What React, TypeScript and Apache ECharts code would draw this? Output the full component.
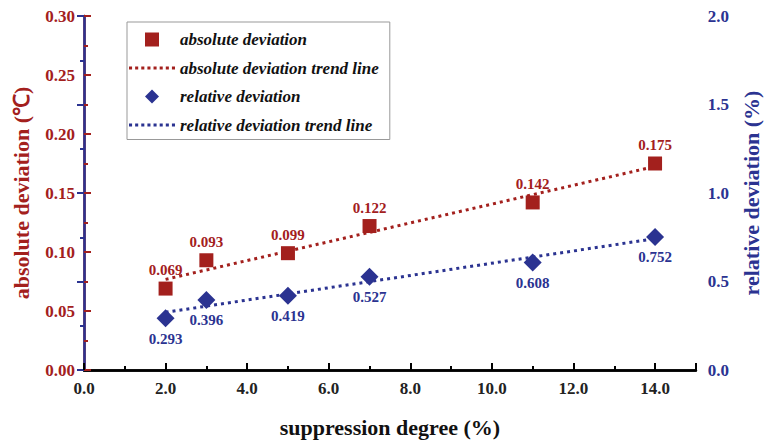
import React, { useEffect, useRef } from "react";
import * as echarts from "echarts";

const xValues = [2, 3, 5, 7, 11, 14];
const absoluteDeviation = [0.069, 0.093, 0.099, 0.122, 0.142, 0.175];
const relativeDeviation = [0.293, 0.396, 0.419, 0.527, 0.608, 0.752];
const trendX = [2, 14];
const absoluteTrend = [0.0768, 0.1725];
const relativeTrend = [0.326, 0.742];

const RED = "#a3201d";
const BLUE = "#2b3391";
const FONT = "Liberation Serif";

const dots = (() => {
  let d = "path://";
  for (let i = 0; i < 8; i++) d += `M${i * 6},0h3v3h-3z`;
  return d;
})();
const squareIcon = "path://M0,0h10v10h-10z";
const diamondIcon = "path://M5,0L10,5L5,10L0,5z";

export default function App() {
  const ref = useRef<HTMLDivElement>(null);
  useEffect(() => {
    document.body.style.margin = "0";
    const chart = echarts.init(ref.current!, undefined, { renderer: "svg" });
    const absPts = xValues.map((x, i) => [x, absoluteDeviation[i]]);
    const relPts = xValues.map((x, i) => [x, relativeDeviation[i]]);
    const absTr = trendX.map((x, i) => [x, absoluteTrend[i]]);
    const relTr = trendX.map((x, i) => [x, relativeTrend[i]]);
    chart.setOption({
      animation: false,
      backgroundColor: "#fff",
      textStyle: { fontFamily: FONT },
      grid: { left: 84, right: 67, top: 16, bottom: 72 },
      legend: {
        orient: "vertical",
        left: 127,
        top: 22,
        padding: [9, 11, 6, 2],
        itemWidth: 46,
        itemHeight: 14,
        itemGap: 11.5,
        borderColor: "#999",
        borderWidth: 1,
        backgroundColor: "#fff",
        textStyle: {
          fontFamily: FONT,
          fontStyle: "italic",
          fontWeight: "bold",
          fontSize: 17,
          color: "#111",
        },
        data: [
          { name: "absolute deviation", icon: squareIcon },
          { name: "absolute deviation trend line", icon: dots },
          { name: "relative deviation", icon: diamondIcon },
          { name: "relative deviation trend line", icon: dots },
        ],
      },
      xAxis: [
        {
          type: "value",
          min: 0,
          max: 15,
          interval: 2,
          name: "suppression degree (%)",
          nameLocation: "middle",
          nameGap: 46,
          nameTextStyle: { fontFamily: FONT, fontWeight: "bold", fontSize: 22, color: "#111" },
          axisLine: { lineStyle: { color: "#000", width: 2.5 } },
          axisTick: { inside: true, length: 7, lineStyle: { color: "#000", width: 2 } },
          minorTick: { show: true, splitNumber: 2, length: 4, lineStyle: { color: "#000", width: 2 } },
          splitLine: { show: false },
          axisLabel: {
            showMaxLabel: false,
            margin: 10,
            fontFamily: FONT,
            fontWeight: "bold",
            fontSize: 17,
            color: "#222",
            formatter: (v: number) => v.toFixed(1),
          },
        },
        {
          type: "value",
          position: "top",
          min: 0,
          max: 15,
          axisLine: { lineStyle: { color: "#000", width: 2.5 } },
          axisTick: { show: false },
          axisLabel: { show: false },
          splitLine: { show: false },
        },
      ],
      yAxis: [
        {
          type: "value",
          min: 0,
          max: 0.3,
          interval: 0.05,
          name: "absolute deviation (℃)",
          nameLocation: "middle",
          nameGap: 52,
          nameTextStyle: { fontFamily: FONT, fontWeight: "bold", fontSize: 22, color: RED },
          axisLine: { show: true, lineStyle: { color: RED, width: 2.5 } },
          axisTick: { inside: true, length: 7, lineStyle: { color: RED, width: 2 } },
          minorTick: { show: true, splitNumber: 2, length: 4, lineStyle: { color: RED, width: 2 } },
          splitLine: { show: false },
          axisLabel: {
            margin: 9,
            fontFamily: FONT,
            fontWeight: "bold",
            fontSize: 17,
            color: RED,
            formatter: (v: number) => v.toFixed(2),
          },
        },
        {
          type: "value",
          min: 0,
          max: 2,
          interval: 0.5,
          position: "right",
          name: "relative deviation (%)",
          nameLocation: "middle",
          nameGap: 38,
          nameRotate: 90,
          nameTextStyle: { fontFamily: FONT, fontWeight: "bold", fontSize: 22, color: BLUE },
          axisLine: { show: true, lineStyle: { color: BLUE, width: 2.5 } },
          axisTick: { inside: true, length: 7, lineStyle: { color: BLUE, width: 2 } },
          minorTick: { show: true, splitNumber: 2, length: 4, lineStyle: { color: BLUE, width: 2 } },
          splitLine: { show: false },
          axisLabel: {
            margin: 12,
            fontFamily: FONT,
            fontWeight: "bold",
            fontSize: 17,
            color: BLUE,
            formatter: (v: number) => v.toFixed(1),
          },
        },
      ],
      series: [
        {
          name: "absolute deviation trend line",
          type: "line",
          xAxisIndex: 0,
          yAxisIndex: 0,
          data: absTr,
          symbol: "none",
          lineStyle: { color: RED, width: 3, type: [3, 4] },
          itemStyle: { color: RED },
          z: 2,
        },
        {
          name: "relative deviation trend line",
          type: "line",
          xAxisIndex: 0,
          yAxisIndex: 1,
          data: relTr,
          symbol: "none",
          lineStyle: { color: BLUE, width: 3, type: [3, 4] },
          itemStyle: { color: BLUE },
          z: 2,
        },
        {
          name: "absolute deviation",
          type: "scatter",
          xAxisIndex: 0,
          yAxisIndex: 0,
          data: absPts,
          symbol: "rect",
          symbolSize: 14,
          itemStyle: { color: RED, opacity: 1 },
          label: {
            show: true,
            position: "top",
            distance: 4,
            fontFamily: FONT,
            fontWeight: "bold",
            fontSize: 15,
            color: RED,
            formatter: (p: any) => p.value[1].toFixed(3),
          },
          z: 3,
        },
        {
          name: "relative deviation",
          type: "scatter",
          xAxisIndex: 0,
          yAxisIndex: 1,
          data: relPts,
          symbol: "diamond",
          symbolSize: 18,
          itemStyle: { color: BLUE, opacity: 1 },
          label: {
            show: true,
            position: "bottom",
            distance: 4,
            fontFamily: FONT,
            fontWeight: "bold",
            fontSize: 15,
            color: BLUE,
            formatter: (p: any) => p.value[1].toFixed(3),
          },
          z: 3,
        },
      ],
    });
    return () => chart.dispose();
  }, []);
  return <div ref={ref} style={{ width: 770, height: 443 }} />;
}
